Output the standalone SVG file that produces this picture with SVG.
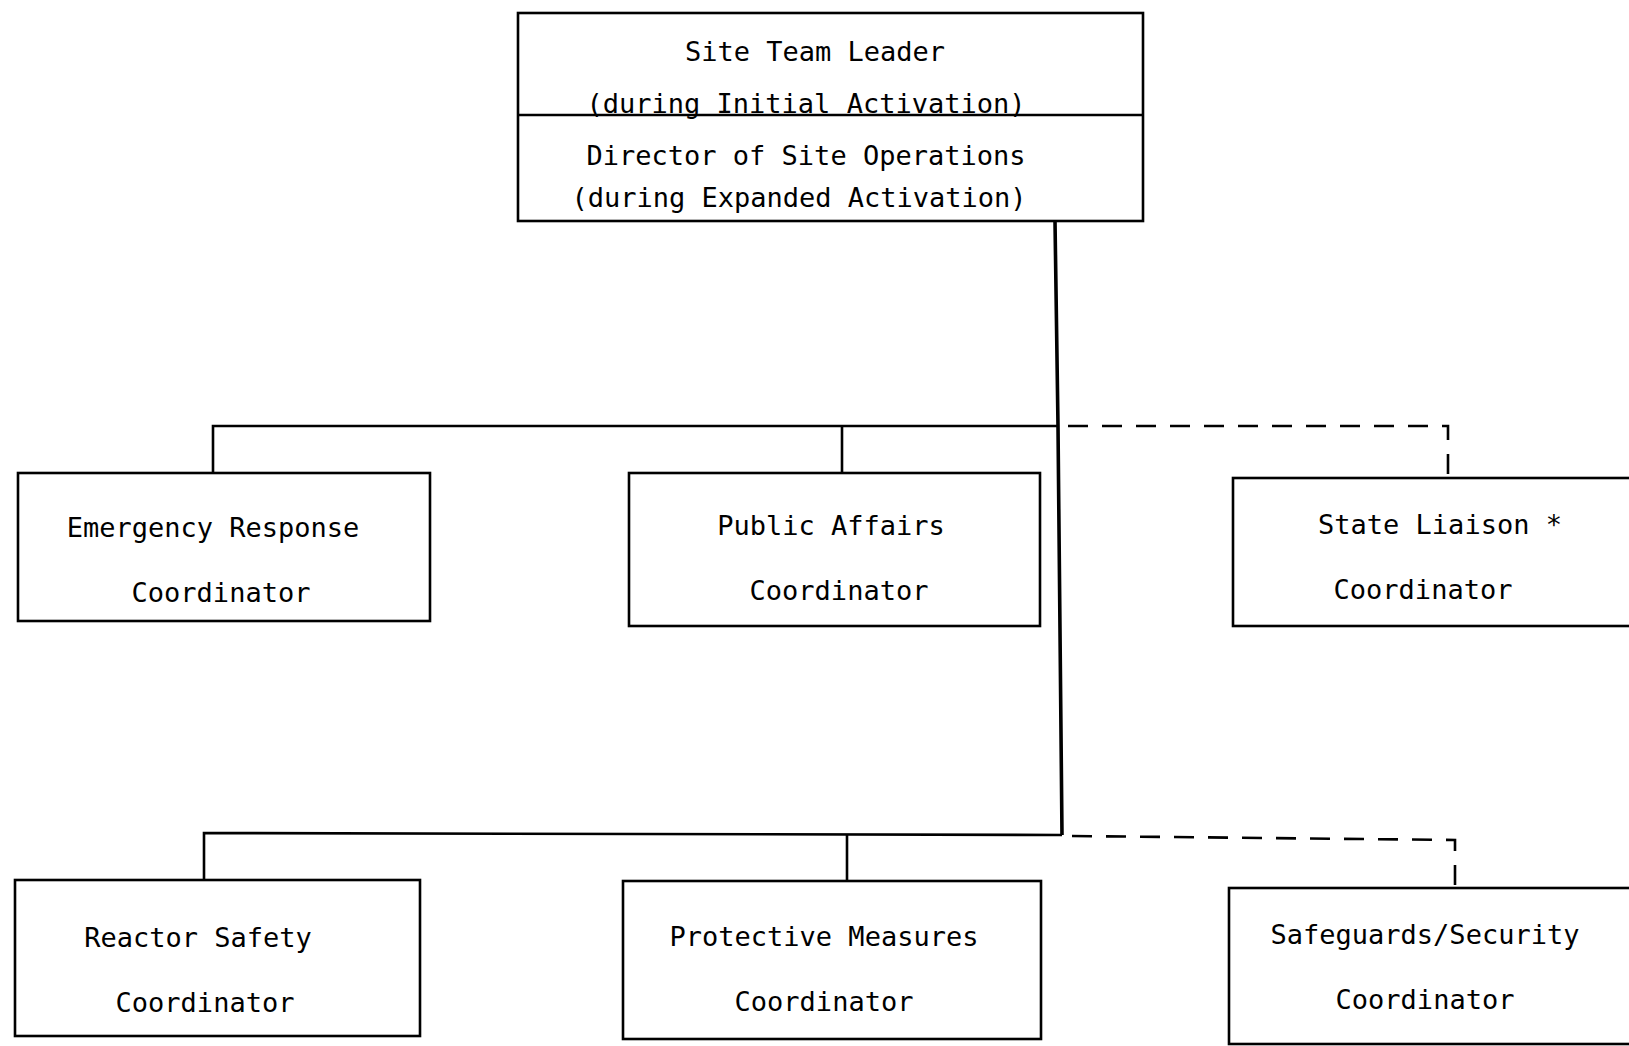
<svg xmlns="http://www.w3.org/2000/svg" width="1629" height="1046" viewBox="0 0 1629 1046">
<style>
.box{fill:#fff;stroke:#000;stroke-width:2.6}
.t{font-family:"DejaVu Sans Mono","Liberation Mono",monospace;font-size:27px;fill:#000;text-anchor:middle}
.ln{fill:none;stroke:#000;stroke-width:2.6}
.trunk{fill:none;stroke:#000;stroke-width:3.6}
.dash{fill:none;stroke:#000;stroke-width:2.6;stroke-dasharray:20 14}
</style>
<rect width="1629" height="1046" fill="#fff"/>
<g id="connectors">
<path class="trunk" d="M1055 221 L1058 426 L1062 835"/>
<path class="ln" d="M1058 426 L213 426 L213 473"/>
<path class="ln" d="M842 426 L842 473"/>
<path class="dash" d="M1068 426 L1448 426 L1448 476"/>
<path class="ln" d="M1062 835 L204 833 L204 880"/>
<path class="ln" d="M847 834 L847 881"/>
<path class="dash" d="M1072 836 L1455 840 L1455 888"/>
</g>
<g id="site-team-leader">
<rect class="box" x="518" y="13" width="625" height="208"/>
<line class="ln" x1="518" y1="115" x2="1143" y2="115"/>
<text class="t" x="815" y="61">Site Team Leader</text>
<text class="t" x="806" y="113">(during Initial Activation)</text>
<text class="t" x="806" y="165">Director of Site Operations</text>
<text class="t" x="799" y="207">(during Expanded Activation)</text>
</g>
<g id="emergency-response">
<rect class="box" x="18" y="473" width="412" height="148"/>
<text class="t" x="213" y="537">Emergency Response</text>
<text class="t" x="221" y="602">Coordinator</text>
</g>
<g id="public-affairs">
<rect class="box" x="629" y="473" width="411" height="153"/>
<text class="t" x="831" y="535">Public Affairs</text>
<text class="t" x="839" y="600">Coordinator</text>
</g>
<g id="state-liaison">
<rect class="box" x="1233" y="478" width="410" height="148"/>
<text class="t" x="1440" y="534">State Liaison *</text>
<text class="t" x="1423" y="599">Coordinator</text>
</g>
<g id="reactor-safety">
<rect class="box" x="15" y="880" width="405" height="156"/>
<text class="t" x="198" y="947">Reactor Safety</text>
<text class="t" x="205" y="1012">Coordinator</text>
</g>
<g id="protective-measures">
<rect class="box" x="623" y="881" width="418" height="158"/>
<text class="t" x="824" y="946">Protective Measures</text>
<text class="t" x="824" y="1011">Coordinator</text>
</g>
<g id="safeguards-security">
<rect class="box" x="1229" y="888" width="414" height="156"/>
<text class="t" x="1425" y="944">Safeguards/Security</text>
<text class="t" x="1425" y="1009">Coordinator</text>
</g>
</svg>
